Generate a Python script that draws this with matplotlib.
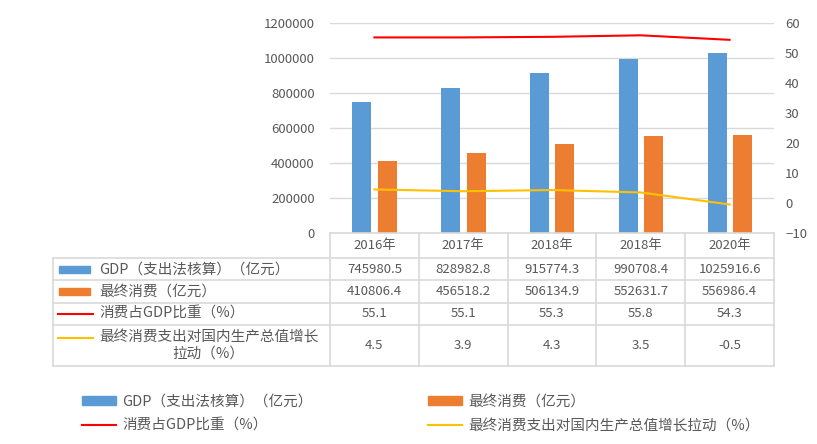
import matplotlib
matplotlib.use("Agg")
import matplotlib.pyplot as plt
import numpy as np
from matplotlib.lines import Line2D
from matplotlib.patches import Patch, Rectangle
from matplotlib.transforms import blended_transform_factory

plt.rcParams['font.family'] = ['Noto Sans CJK SC', 'DejaVu Sans']

years = ['2016年', '2017年', '2018年', '2018年', '2020年']
gdp = [745980.5, 828982.8, 915774.3, 990708.4, 1025916.6]
consumption = [410806.4, 456518.2, 506134.9, 552631.7, 556986.4]
share = [55.1, 55.1, 55.3, 55.8, 54.3]
pull = [4.5, 3.9, 4.3, 3.5, -0.5]

gdp_label = 'GDP（支出法核算）（亿元）'
cons_label = '最终消费（亿元）'
share_label = '消费占GDP比重（%）'
pull_label = '最终消费支出对国内生产总值增长拉动（%）'
pull_label_table = '最终消费支出对国内生产总值增长\n拉动（%）'

c_blue = '#5b9bd5'
c_orange = '#ed7d31'
c_red = '#ff0000'
c_yellow = '#ffc000'
c_text = '#595959'
c_grid = '#d9d9d9'

W, H = 817, 444
def fx(x):
    return x / W
def fy(y):
    return 1 - y / H

fig = plt.figure(figsize=(W / 100, H / 100), dpi=100)
ax = fig.add_axes([fx(330), fy(233), (774 - 330) / W, (233 - 22.7) / H])
ax2 = ax.twinx()

x = np.arange(len(years))
bw = 0.214
ax.bar(x - 0.14, gdp, bw, color=c_blue, zorder=2)
ax.bar(x + 0.145, consumption, bw, color=c_orange, zorder=2)
ax2.plot(x, share, color=c_red, lw=1.5)
ax2.plot(x, pull, color=c_yellow, lw=1.5)

ax.set_xlim(-0.5, len(years) - 0.5)
ax.set_ylim(0, 1200000)
ax.set_yticks(np.arange(0, 1200001, 200000))
ax.set_yticklabels(['%d' % v for v in np.arange(0, 1200001, 200000)])
ax2.set_ylim(-10, 60)
ax2.set_yticks(np.arange(-10, 61, 10))
ax.set_xticks([])
ax.yaxis.grid(True, color=c_grid, lw=1)
ax.set_axisbelow(True)
for a in (ax, ax2):
    for s in a.spines.values():
        s.set_visible(False)
ax.tick_params(axis='y', length=0, pad=11, labelsize=9.5, labelcolor=c_text)
ax2.tick_params(axis='y', length=0, pad=8, labelsize=9.5, labelcolor=c_text)

# data table under the plot
tr = blended_transform_factory(ax.transData, fig.transFigure)
row_lines = [258.3, 280, 302.7, 325, 365.7]
left_edge = 52.7
fig.add_artist(Line2D([-0.5, len(years) - 0.5], [fy(233)] * 2, transform=tr, color=c_grid, lw=1.2))
for yl in row_lines:
    fig.add_artist(Line2D([fx(left_edge), fx(774)], [fy(yl)] * 2, transform=fig.transFigure, color=c_grid, lw=1.2))
fig.add_artist(Line2D([fx(left_edge)] * 2, [fy(258.3), fy(365.7)], transform=fig.transFigure, color=c_grid, lw=1.2))
for k in range(len(years) + 1):
    fig.add_artist(Line2D([k - 0.5] * 2, [fy(233), fy(365.7)], transform=tr, color=c_grid, lw=1.2))

header_y = 245.5
row_y = [269.2, 291.3, 313.8, 345.4]
rows = [gdp, consumption, share, pull]
for i, yr in enumerate(years):
    fig.text(i, fy(header_y), yr, transform=tr, ha='center', va='center', fontsize=9.5, color=c_text)
for vals, yy in zip(rows, row_y):
    for i, v in enumerate(vals):
        fig.text(i, fy(yy), '%.1f' % v, transform=tr, ha='center', va='center', fontsize=9.5, color=c_text)

text_x = 99
fig.add_artist(Rectangle((fx(59), fy(273.3)), (90 - 59) / W, 7.6 / H, transform=fig.transFigure, color=c_blue))
fig.add_artist(Rectangle((fx(59), fy(295.1)), (90 - 59) / W, 7.6 / H, transform=fig.transFigure, color=c_orange))
fig.add_artist(Line2D([fx(58), fx(93)], [fy(313.5)] * 2, transform=fig.transFigure, color=c_red, lw=1.5))
fig.add_artist(Line2D([fx(58), fx(93)], [fy(337.5)] * 2, transform=fig.transFigure, color=c_yellow, lw=1.5))
fig.text(fx(text_x), fy(row_y[0]), gdp_label, ha='left', va='center', fontsize=10.5, color=c_text)
fig.text(fx(text_x), fy(row_y[1]), cons_label, ha='left', va='center', fontsize=10.5, color=c_text)
fig.text(fx(text_x), fy(row_y[2]), share_label, ha='left', va='center', fontsize=10.5, color=c_text)
fig.text(fx(text_x), fy(row_y[3]), pull_label_table, ha='left', va='center', fontsize=10.5,
         color=c_text, multialignment='center', linespacing=1.15)

# legend
handles = [
    Patch(color=c_blue, label=gdp_label),
    Line2D([], [], color=c_red, lw=1.5, label=share_label),
    Patch(color=c_orange, label=cons_label),
    Line2D([], [], color=c_yellow, lw=1.5, label=pull_label),
]
leg = fig.legend(handles=handles, ncol=2, loc='upper left', bbox_to_anchor=(fx(82), fy(394.5)),
                 frameon=False, fontsize=10.5, handlelength=2.35, handleheight=0.55,
                 handletextpad=0.4, columnspacing=7.9, labelspacing=0.72, borderpad=0,
                 borderaxespad=0)
for t in leg.get_texts():
    t.set_color(c_text)

fig.savefig('out.png', dpi=100)
